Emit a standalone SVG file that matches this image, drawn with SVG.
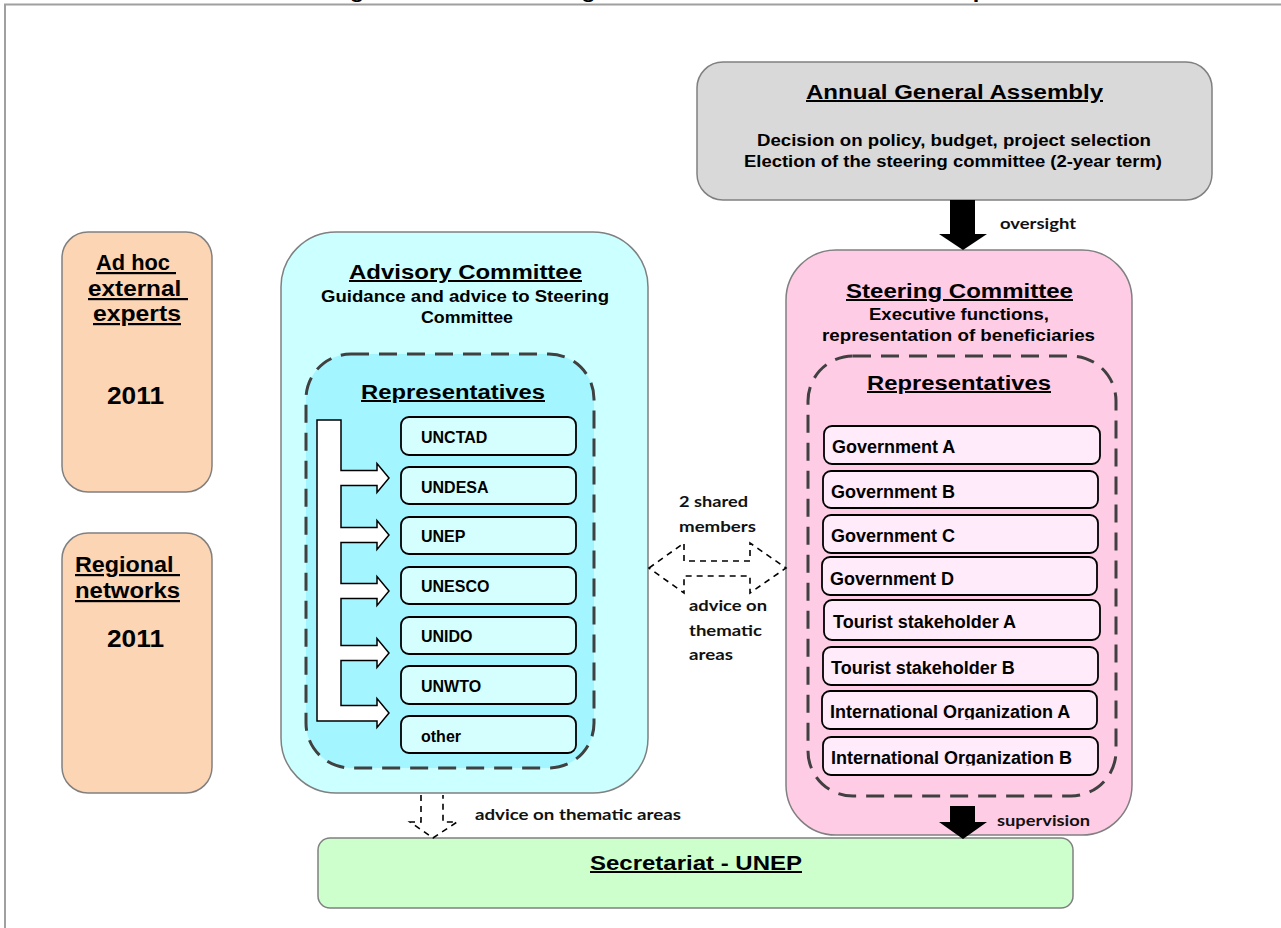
<svg xmlns="http://www.w3.org/2000/svg" width="1281" height="928" viewBox="0 0 1281 928">
<style>
  .t { font-family: "Liberation Sans", Arial, sans-serif; font-weight: bold; fill: #000; }
  .u { text-decoration: underline; }
  .lbl { font-family: Lato, "Liberation Sans", sans-serif; font-weight: 700; fill: #111; }
  .box { stroke: #808080; stroke-width: 1.5; }
  .item { stroke: #000; stroke-width: 1.8; }
  .dash { fill: none; stroke: #404040; stroke-width: 3; stroke-dasharray: 18 10; }
  .conn-d { fill: none; stroke: #000; stroke-width: 1.6; stroke-dasharray: 6 5; }
</style>
<defs>
  <clipPath id="clipIOA"><rect x="822" y="691" width="275" height="28.5"/></clipPath>
  <clipPath id="clipIOB"><rect x="823" y="737" width="275" height="28.5"/></clipPath>
</defs>
<rect x="0" y="0" width="1281" height="928" fill="#fff"/>
<path d="M5,928 V4.5 H1281" fill="none" stroke="#a0a0a0" stroke-width="2"/>
<text class="t" x="329" y="-2.5" font-size="19" textLength="658" lengthAdjust="spacingAndGlyphs">Figure 1: Schematic organizational chart of the Partnership</text>

<g id="annual-general-assembly">
  <rect class="box" x="697" y="62" width="515" height="138" rx="26" fill="#d9d9d9" stroke="#a6a6a6"/>
  <text class="t u" x="806" y="99" font-size="20" textLength="297" lengthAdjust="spacingAndGlyphs">Annual General Assembly</text>
  <text class="t" x="757" y="146" font-size="16" textLength="394" lengthAdjust="spacingAndGlyphs">Decision on policy, budget, project selection</text>
  <text class="t" x="744" y="167" font-size="16" textLength="418" lengthAdjust="spacingAndGlyphs">Election of the steering committee (2-year term)</text>
</g>

<g id="ad-hoc-experts">
  <rect class="box" x="62" y="232" width="150" height="260" rx="26" fill="#fcd5b4"/>
  <text class="t u" x="96" y="270" font-size="22" textLength="80" lengthAdjust="spacingAndGlyphs">Ad hoc&#160;</text>
  <text class="t u" x="88" y="296" font-size="22" textLength="100" lengthAdjust="spacingAndGlyphs">external&#160;</text>
  <text class="t u" x="93" y="321" font-size="22" textLength="88" lengthAdjust="spacingAndGlyphs">experts</text>
  <text class="t" x="107" y="404" font-size="23" textLength="57" lengthAdjust="spacingAndGlyphs">2011</text>
</g>

<g id="regional-networks">
  <rect class="box" x="62" y="533" width="150" height="260" rx="26" fill="#fcd5b4"/>
  <text class="t u" x="75" y="572" font-size="22" textLength="105" lengthAdjust="spacingAndGlyphs">Regional&#160;</text>
  <text class="t u" x="75" y="598" font-size="22" textLength="105" lengthAdjust="spacingAndGlyphs">networks</text>
  <text class="t" x="107" y="647" font-size="23" textLength="57" lengthAdjust="spacingAndGlyphs">2011</text>
</g>

<g id="advisory-committee">
  <rect class="box" x="281" y="232" width="367" height="561" rx="55" fill="#ccffff"/>
  <text class="t u" x="349" y="279" font-size="20" textLength="233" lengthAdjust="spacingAndGlyphs">Advisory Committee</text>
  <text class="t" x="321" y="302" font-size="16" textLength="288" lengthAdjust="spacingAndGlyphs">Guidance and advice to Steering</text>
  <text class="t" x="421" y="323" font-size="16" textLength="92" lengthAdjust="spacingAndGlyphs">Committee</text>
  <rect class="dash" x="306" y="354" width="288" height="414" rx="45" style="fill:#a3f5ff"/>
  <text class="t u" x="361" y="399" font-size="20" textLength="184" lengthAdjust="spacingAndGlyphs">Representatives</text>
  <path d="M317,420 H341 V470.5 H377 V463.5 L389,478 L377,492.5 V485.5 H341 V527.5 H377 V520.5 L389,535 L377,549.5 V542.5 H341 V583.5 H377 V576.5 L389,591 L377,605.5 V598.5 H341 V645.5 H377 V638.5 L389,653 L377,667.5 V660.5 H341 V705.5 H377 V698.5 L389,713 L377,727.5 V721 H317 Z" fill="#fff" stroke="#000" stroke-width="1.5" stroke-linejoin="miter"/>
  <g id="adv-unctad"><rect class="item" x="401" y="417" width="175" height="38" rx="8" fill="#d5ffff"/><text class="t" x="421" y="443" font-size="16">UNCTAD</text></g>
  <g id="adv-undesa"><rect class="item" x="401" y="467" width="175" height="37" rx="8" fill="#d5ffff"/><text class="t" x="421" y="493" font-size="16">UNDESA</text></g>
  <g id="adv-unep"><rect class="item" x="401" y="517" width="175" height="37" rx="8" fill="#d5ffff"/><text class="t" x="421" y="542" font-size="16">UNEP</text></g>
  <g id="adv-unesco"><rect class="item" x="401" y="567" width="175" height="37" rx="8" fill="#d5ffff"/><text class="t" x="421" y="592" font-size="16">UNESCO</text></g>
  <g id="adv-unido"><rect class="item" x="401" y="617" width="175" height="37" rx="8" fill="#d5ffff"/><text class="t" x="421" y="642" font-size="16">UNIDO</text></g>
  <g id="adv-unwto"><rect class="item" x="401" y="666" width="175" height="38" rx="8" fill="#d5ffff"/><text class="t" x="421" y="692" font-size="16">UNWTO</text></g>
  <g id="adv-other"><rect class="item" x="401" y="716" width="175" height="37" rx="8" fill="#d5ffff"/><text class="t" x="421" y="742" font-size="16">other</text></g>
</g>

<g id="steering-committee">
  <rect class="box" x="786" y="250" width="346" height="585" rx="50" fill="#ffcce6"/>
  <text class="t u" x="846" y="298" font-size="20" textLength="227" lengthAdjust="spacingAndGlyphs">Steering Committee</text>
  <text class="t" x="869" y="320" font-size="16" textLength="180" lengthAdjust="spacingAndGlyphs">Executive functions,</text>
  <text class="t" x="822" y="341" font-size="16" textLength="273" lengthAdjust="spacingAndGlyphs">representation of beneficiaries</text>
  <rect class="dash" x="808" y="356" width="308" height="440" rx="45"/>
  <text class="t u" x="867" y="390" font-size="20" textLength="184" lengthAdjust="spacingAndGlyphs">Representatives</text>
  <g id="sc-gov-a"><rect class="item" x="824" y="426" width="276" height="38" rx="8" fill="#ffebfa"/><text class="t" x="832" y="453" font-size="18">Government A</text></g>
  <g id="sc-gov-b"><rect class="item" x="823" y="471" width="275" height="37" rx="8" fill="#ffebfa"/><text class="t" x="831" y="498" font-size="18">Government B</text></g>
  <g id="sc-gov-c"><rect class="item" x="823" y="515" width="275" height="38" rx="8" fill="#ffebfa"/><text class="t" x="831" y="542" font-size="18">Government C</text></g>
  <g id="sc-gov-d"><rect class="item" x="822" y="557" width="275" height="38" rx="8" fill="#ffebfa"/><text class="t" x="830" y="585" font-size="18">Government D</text></g>
  <g id="sc-tour-a"><rect class="item" x="824" y="600" width="276" height="40" rx="8" fill="#ffebfa"/><text class="t" x="833" y="628" font-size="18">Tourist stakeholder A</text></g>
  <g id="sc-tour-b"><rect class="item" x="823" y="647" width="275" height="38" rx="8" fill="#ffebfa"/><text class="t" x="831" y="674" font-size="18">Tourist stakeholder B</text></g>
  <g id="sc-io-a"><rect class="item" x="822" y="691" width="275" height="38" rx="8" fill="#ffebfa"/><text class="t" x="830" y="718" font-size="18" clip-path="url(#clipIOA)">International Organization A</text></g>
  <g id="sc-io-b"><rect class="item" x="823" y="737" width="275" height="38" rx="8" fill="#ffebfa"/><text class="t" x="831" y="764" font-size="18" clip-path="url(#clipIOB)">International Organization B</text></g>
</g>

<g id="secretariat">
  <rect class="box" x="318" y="838" width="755" height="70" rx="12" fill="#ccffcc"/>
  <text class="t u" x="590" y="870" font-size="20" textLength="212" lengthAdjust="spacingAndGlyphs">Secretariat - UNEP</text>
</g>

<g id="connectors">
  <path d="M950,200 H975 V234 H987 L963,250 L939,234 H950 Z" fill="#000"/>
  <text class="lbl" x="1000" y="229" font-size="15" textLength="76" lengthAdjust="spacingAndGlyphs">oversight</text>
  <path class="conn-d" d="M649,568 L684,543 V561 H750 V543 L786,568 L750,593 V576 H684 V593 Z"/>
  <text class="lbl" x="679" y="507" font-size="16" textLength="69" lengthAdjust="spacingAndGlyphs">2 shared</text>
  <text class="lbl" x="679" y="532" font-size="16" textLength="77" lengthAdjust="spacingAndGlyphs">members</text>
  <text class="lbl" x="689" y="611" font-size="16" textLength="78" lengthAdjust="spacingAndGlyphs">advice on</text>
  <text class="lbl" x="689" y="636" font-size="16" textLength="73" lengthAdjust="spacingAndGlyphs">thematic</text>
  <text class="lbl" x="689" y="660" font-size="16" textLength="44" lengthAdjust="spacingAndGlyphs">areas</text>
  <path class="conn-d" d="M421,795 V822 H410 L433,838 L457,822 H443 V795"/>
  <text class="lbl" x="475" y="820" font-size="16" textLength="206" lengthAdjust="spacingAndGlyphs">advice on thematic areas</text>
  <path d="M950,806 H975 V822 H987 L963,839 L939,822 H950 Z" fill="#000"/>
  <text class="lbl" x="997" y="826" font-size="15" textLength="93" lengthAdjust="spacingAndGlyphs">supervision</text>
</g>
</svg>
